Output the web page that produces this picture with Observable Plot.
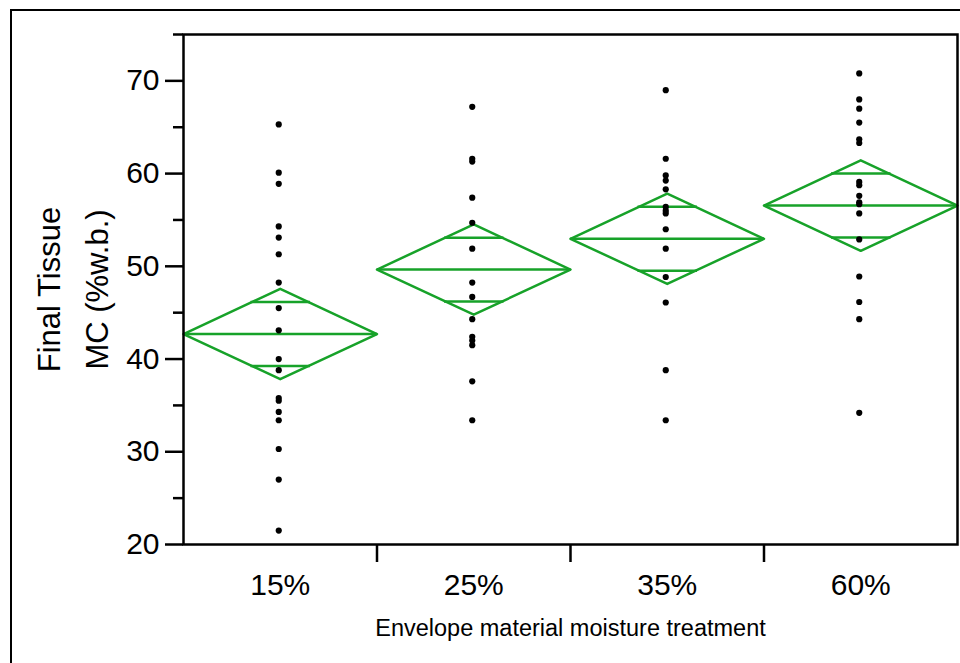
<!DOCTYPE html>
<html>
<head>
<meta charset="utf-8">
<script src="https://cdn.jsdelivr.net/npm/d3@7"></script>
<script src="https://cdn.jsdelivr.net/npm/@observablehq/plot@0.6"></script>
<style>
  html, body { margin: 0; padding: 0; background: #fff; overflow: hidden; }
  #wrap { position: relative; width: 960px; height: 663px; }
  #border { position: absolute; left: 10px; top: 9px; width: 980px; height: 700px;
            border-left: 2.5px solid #000; border-top: 2.5px solid #000; box-sizing: border-box; }
  #chart { position: absolute; left: 0; top: 0; }
</style>
</head>
<body>
<div id="wrap"><div id="border"></div><div id="chart"></div></div>
<script>
const categories = ["15%", "25%", "35%", "60%"];
const values15 = [65.3, 60.1, 58.9, 54.3, 53.1, 51.3, 48.25, 45.5, 43.1, 40.0, 38.8, 35.8, 35.5, 34.3, 33.4, 30.3, 27.0, 21.5];
const values25 = [67.2, 61.6, 61.3, 57.4, 54.7, 51.9, 48.25, 46.7, 44.3, 42.4, 42.0, 41.5, 37.6, 33.4];
const values35 = [69.0, 61.6, 59.8, 59.25, 58.3, 56.4, 56.0, 55.7, 54.0, 51.9, 48.85, 46.1, 38.8, 33.4];
const values60 = [70.8, 68.0, 67.0, 65.5, 63.7, 63.3, 59.1, 58.75, 57.6, 56.9, 56.7, 55.7, 52.9, 48.9, 46.15, 44.3, 34.2];
const means = [42.7, 49.65, 52.97, 56.55];
const ciHalf = [4.87, 4.87, 4.87, 4.88];
const yMajorTicks = [20, 30, 40, 50, 60, 70];
const yMinorTicks = [25, 35, 45, 55, 65, 75];
const xTitle = "Envelope material moisture treatment";
const yTitle = "Final Tissue\nMC (%w.b.)";

const green = "#17a229";
const font = "'Liberation Sans', Arial, Helvetica, sans-serif";

const groups = [values15, values25, values35, values60];
const points = groups.flatMap((vals, i) => vals.map(v => ({g: categories[i], i, v})));

const diamonds = categories.flatMap((c, i) => [
  {g: c, x: i, y: means[i]},
  {g: c, x: i + 0.5, y: means[i] + ciHalf[i]},
  {g: c, x: i + 1, y: means[i]},
  {g: c, x: i + 0.5, y: means[i] - ciHalf[i]},
  {g: c, x: i, y: means[i]}
]);

const ov = 0.5 * (1 - 1 / Math.SQRT2) * 1.05;
const overlaps = categories.flatMap((c, i) => [
  {i, y: means[i] + ciHalf[i] / Math.SQRT2},
  {i, y: means[i] - ciHalf[i] / Math.SQRT2}
]);

const chart = Plot.plot({
  width: 960,
  height: 663,
  marginLeft: 183,
  marginRight: 3,
  marginTop: 34,
  marginBottom: 119,
  style: {fontFamily: font, color: "#000", background: "transparent", overflow: "visible"},
  x: {type: "linear", domain: [0, 4], axis: null},
  y: {domain: [20, 75], axis: null},
  marks: [
    Plot.axisY({ticks: yMajorTicks, tickSize: 18, tickPadding: 6, fontSize: 30, strokeWidth: 2.5, label: null}),
    Plot.axisY({ticks: yMinorTicks, tickSize: 10, text: null, strokeWidth: 2.5, label: null}),
    Plot.axisX({ticks: [1, 2, 3], tickSize: 18, text: null, strokeWidth: 2.5, label: null}),
    Plot.axisX({ticks: categories.map((c, i) => i + 0.5), tickFormat: t => categories[Math.floor(t)],
                tickSize: 0, tickPadding: 29, fontSize: 30, label: null}),
    Plot.line(diamonds, {x: "x", y: "y", z: "g", stroke: green, strokeWidth: 2.5}),
    Plot.link(categories, {x1: (d, i) => i, x2: (d, i) => i + 1, y1: (d, i) => means[i], y2: (d, i) => means[i],
                           stroke: green, strokeWidth: 2.5}),
    Plot.link(overlaps, {x1: d => d.i + 0.5 - ov, x2: d => d.i + 0.5 + ov, y1: "y", y2: "y",
                         stroke: green, strokeWidth: 2.5}),
    Plot.dot(points, {x: d => d.i + 0.5, y: "v", r: 3.1, fill: "#000", stroke: null, dx: -1.5}),
    Plot.frame({stroke: "#000", strokeWidth: 2.5}),
    Plot.text([xTitle], {frameAnchor: "bottom", dy: 84, fontSize: 23.5, lineAnchor: "middle", fill: "#000"}),
    Plot.text([yTitle], {frameAnchor: "left", dx: -115, rotate: -90, fontSize: 31, lineHeight: 1.55,
                         textAnchor: "middle", lineAnchor: "middle", fill: "#000"})
  ]
});
document.getElementById("chart").appendChild(chart);
</script>
</body>
</html>
